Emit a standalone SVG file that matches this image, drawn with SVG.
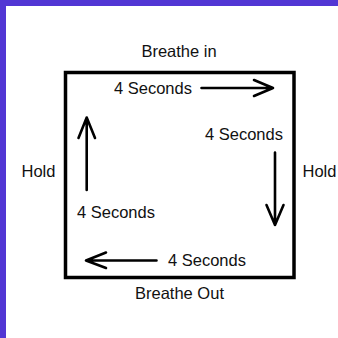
<svg xmlns="http://www.w3.org/2000/svg" width="338" height="338" viewBox="0 0 338 338">
<style>
text{font-family:"Liberation Sans",Arial,Helvetica,sans-serif;font-size:16.5px;fill:#111}
.ln{stroke:#000;stroke-width:2.6;fill:none;stroke-linecap:round;stroke-linejoin:round}
</style>
<rect width="338" height="338" fill="#fff"/>
<rect x="0" y="0" width="338" height="6" fill="#5236d4"/>
<rect x="0" y="0" width="6" height="338" fill="#5236d4"/>
<g id="box"><rect x="65.5" y="72.5" width="228.5" height="205" fill="none" stroke="#000" stroke-width="3.5"/></g>
<g id="labels">
<text x="179" y="57" text-anchor="middle">Breathe in</text>
<text x="179.5" y="298.5" text-anchor="middle">Breathe Out</text>
<text x="21.5" y="177">Hold</text>
<text x="302.5" y="177">Hold</text>
<text x="114" y="94">4 Seconds</text>
<text x="205" y="140">4 Seconds</text>
<text x="77" y="218">4 Seconds</text>
<text x="168" y="266">4 Seconds</text>
</g>
<g id="connectors">
<path class="ln" d="M201.5 88H273M254 80L273 88L254 96"/>
<path class="ln" d="M275 152.5V225M266.5 205L275 225L283.5 205"/>
<path class="ln" d="M156.5 260.5H86M106 252.5L86 260.5L106 268"/>
<path class="ln" d="M86.7 190V117.5M78.5 138L86.7 117.5L95 138"/>
</g>
</svg>
